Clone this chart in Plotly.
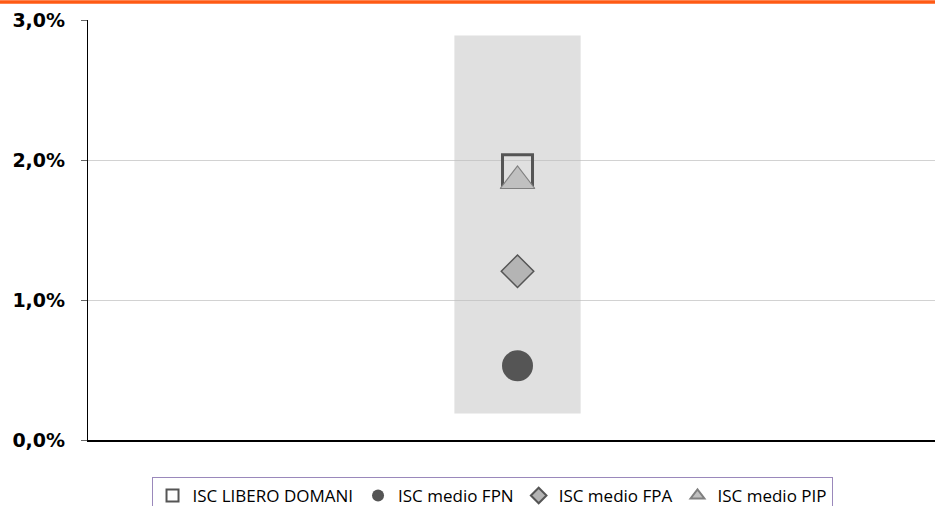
import plotly.graph_objects as go

categories = ["ISC"]
range_min = [0.19]
range_max = [2.89]
isc_libero = [1.93]
isc_fpn = [0.53]
isc_fpa = [1.205]
isc_pip = [1.85]
tick_vals = [0, 1, 2, 3]
tick_text = ["0,0%", "1,0%", "2,0%", "3,0%"]

x = [0]

fig = go.Figure()
fig.add_trace(go.Bar(
    x=x, y=[range_max[0] - range_min[0]], base=range_min, width=0.294,
    marker=dict(color="rgba(190,190,190,0.47)", line=dict(width=0)),
    showlegend=False, hoverinfo="skip"))
fig.add_trace(go.Scatter(
    x=x, y=isc_libero, mode="markers", name="ISC LIBERO DOMANI",
    marker=dict(symbol="square-open", size=30, color="#555555", line=dict(width=3, color="#555555"))))
fig.add_trace(go.Scatter(
    x=x, y=isc_fpn, mode="markers", name="ISC medio FPN",
    marker=dict(symbol="circle", size=31, color="#555555", line=dict(width=0))))
fig.add_trace(go.Scatter(
    x=x, y=isc_fpa, mode="markers", name="ISC medio FPA",
    marker=dict(symbol="diamond", size=25, color="#b4b4b4", line=dict(width=1.5, color="#555555"))))
fig.add_trace(go.Scatter(
    x=x, y=isc_pip, mode="markers", name="ISC medio PIP",
    marker=dict(symbol="triangle-up", size=30, color="#c0c0c0", line=dict(width=1.2, color="#808080"))))

fig.update_layout(
    width=935, height=506,
    margin=dict(l=88, r=0, t=20, b=66, autoexpand=False),
    paper_bgcolor="white", plot_bgcolor="white",
    showlegend=True,
    legend=dict(orientation="h", x=0.477, xanchor="center", y=-0.088, yanchor="top",
                bordercolor="#9a88bb", borderwidth=1,
                font=dict(family="Open Sans", size=17, color="black"),
                itemsizing="constant", itemwidth=30,
                traceorder="normal", tracegroupgap=0),
    xaxis=dict(range=[-1, 0.972], showticklabels=False, showgrid=False,
               zeroline=False, showline=True, linecolor="black", linewidth=1.5,
               ticks="", fixedrange=True, automargin=False),
    yaxis=dict(range=[0, 3], tickvals=tick_vals, ticktext=tick_text,
               showgrid=True, gridcolor="#d2d2d2", gridwidth=1,
               zeroline=False, showline=True, linecolor="black", linewidth=1.2,
               ticks="outside", ticklen=6, tickcolor="#666666",
               ticklabelstandoff=12, automargin=False,
               tickfont=dict(family="DejaVu Sans", size=19, color="black", weight="bold")),
    shapes=[dict(type="line", xref="paper", yref="paper", x0=-0.2, x1=1.1,
                 y0=1 + 18/420, y1=1 + 18/420,
                 line=dict(color="#ff5a14", width=3.5))],
)

fig.write_html("out.html", config={"displayModeBar": False},
               post_script="document.body.style.margin='0';document.body.style.overflow='hidden';")
